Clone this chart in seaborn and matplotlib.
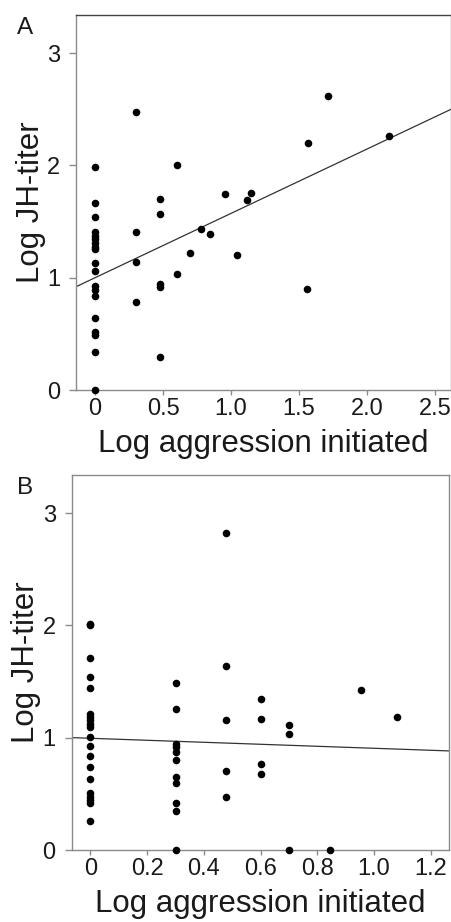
import matplotlib
matplotlib.use("Agg")
import matplotlib.pyplot as plt
import seaborn as sns
import pandas as pd

# panel A: log aggression initiated vs log JH-titer
a_x = [0.0, 0.0, 0.0, 0.0, 0.0, 0.0, 0.0, 0.0, 0.0, 0.0,
       0.0, 0.0, 0.0, 0.0, 0.0, 0.0, 0.0, 0.0, 0.0,
       0.301, 0.301, 0.301, 0.301,
       0.477, 0.477, 0.477, 0.477, 0.477,
       0.602, 0.602, 0.699, 0.778, 0.845, 0.954, 1.041,
       1.114, 1.146, 1.568, 1.556, 1.716, 2.164]
a_y = [1.985, 1.664, 1.539, 1.405, 1.375, 1.346, 1.313, 1.272, 1.254, 1.135,
       1.064, 0.930, 0.891, 0.841, 0.642, 0.520, 0.490, 0.342, 0.0,
       2.48, 1.405, 1.138, 0.784,
       1.705, 1.565, 0.947, 0.918, 0.294,
       2.0, 1.03, 1.224, 1.434, 1.387, 1.743, 1.203,
       1.693, 1.752, 2.20, 0.90, 2.62, 2.26]
# fitted line as printed (intercept, slope)
a_fit = [1.0, 0.573]

# panel B
b_x = [0.0, 0.0, 0.0, 0.0, 0.0, 0.0, 0.0, 0.0, 0.0, 0.0,
       0.0, 0.0, 0.0, 0.0, 0.0, 0.0, 0.0, 0.0, 0.0, 0.0,
       0.301, 0.301, 0.301, 0.301, 0.301, 0.301, 0.301, 0.301, 0.301, 0.301, 0.301,
       0.477, 0.477, 0.477, 0.477, 0.477,
       0.602, 0.602, 0.602, 0.602,
       0.699, 0.699, 0.699,
       0.845, 0.954, 1.079]
b_y = [2.014, 2.005, 1.708, 1.544, 1.441, 1.209, 1.182, 1.159, 1.123, 1.094,
       1.010, 0.930, 0.841, 0.737, 0.633, 0.505, 0.475, 0.446, 0.416, 0.261,
       1.486, 1.254, 0.944, 0.92, 0.873, 0.805, 0.648, 0.594, 0.422, 0.348, 0.0,
       2.827, 1.64, 1.156, 0.707, 0.47,
       1.346, 1.168, 0.764, 0.68,
       1.114, 1.031, 0.0,
       0.0, 1.426, 1.185]
b_fit = [0.995, -0.089]

a_xticks = [0, 0.5, 1.0, 1.5, 2.0, 2.5]
a_xticklabels = ["0", "0.5", "1.0", "1.5", "2.0", "2.5"]
b_xticks = [0, 0.2, 0.4, 0.6, 0.8, 1.0, 1.2]
b_xticklabels = ["0", "0.2", "0.4", "0.6", "0.8", "1.0", "1.2"]
yticks = [0, 1, 2, 3]

sns.set_style("ticks")
plt.rcParams["font.family"] = ["Liberation Sans", "DejaVu Sans"]

W, H = 451, 922
fig = plt.figure(figsize=(W / 100, H / 100), dpi=100)

spine_col = "#8a8a8a"
text_col = "#1a1a1a"


def panel(rect, x, y, fit, xlim, xticks, xticklabels, letter):
    ax = fig.add_axes(rect)
    df = pd.DataFrame({"x": x, "y": y})
    sns.regplot(data=df, x="x", y="y", ax=ax, fit_reg=False,
                scatter_kws=dict(s=30, color="black", alpha=1, linewidths=0,
                                 clip_on=False, zorder=3))
    ax.axline((0, fit[0]), slope=fit[1], color="#333333", lw=0.9)
    ax.set_xlim(*xlim)
    ax.set_ylim(0, 3.34)
    ax.set_xticks(xticks)
    ax.set_xticklabels(xticklabels)
    ax.set_yticks(yticks)
    ax.set_yticklabels([str(t) for t in yticks])
    for s in ax.spines.values():
        s.set_color(spine_col)
        s.set_linewidth(1.0)
    ax.tick_params(axis="both", labelsize=17, width=1.0, color=spine_col, labelcolor=text_col)
    ax.tick_params(axis="x", length=3.5, pad=2)
    ax.tick_params(axis="y", length=5, pad=6.5)
    ax.set_xlabel("Log aggression initiated", fontsize=22.5, color=text_col, labelpad=7)
    ax.set_ylabel("Log JH-titer", fontsize=22.5, color=text_col, labelpad=1)
    fig.text(25 / W, rect[1] + rect[3] - 2 / H, letter, fontsize=17.5,
             ha="center", va="top", color=text_col)
    return ax


ax_a = panel([76 / W, 1 - 390 / H, 375 / W, 375 / H], a_x, a_y, a_fit,
             (-0.14, 2.618), a_xticks, a_xticklabels, "A")
ax_a.spines["top"].set_color("#444444")
ax_b = panel([71.7 / W, 1 - 850 / H, 377.3 / W, 375 / H], b_x, b_y, b_fit,
             (-0.066, 1.264), b_xticks, b_xticklabels, "B")

fig.savefig("out.png", dpi=100)
